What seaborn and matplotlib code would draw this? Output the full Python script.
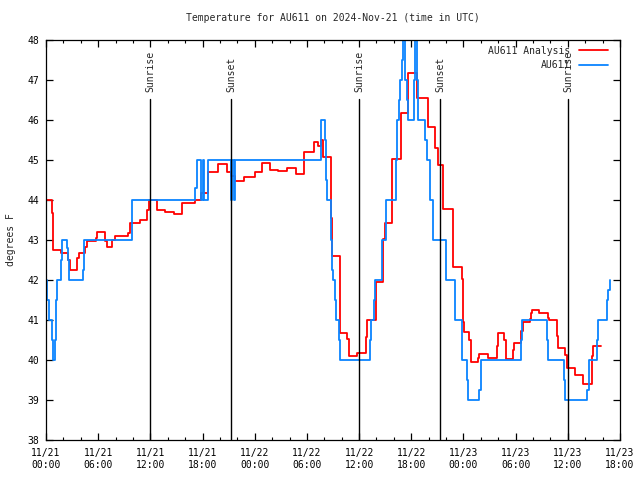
import pandas as pd
import matplotlib
matplotlib.use("Agg")
import matplotlib.pyplot as plt
import matplotlib.dates as mdates
import seaborn as sns

START = pd.Timestamp("2024-11-21 00:00")
END = pd.Timestamp("2024-11-23 18:00")

# AU611 analysis (hours after 11/21 00:00 UTC, degrees F), step series
ana_hours = [0.0, 0.66, 0.77, 1.69, 2.56, 2.76, 3.6, 3.83, 4.48, 4.75, 5.71, 5.83,
             6.78, 6.98, 7.62, 7.93, 9.46, 9.66, 10.81, 11.65, 11.84, 12.71, 13.68,
             14.75, 15.6, 17.13, 17.82, 18.66, 19.74, 20.78, 21.27, 21.73, 22.77,
             24.03, 24.8, 25.76, 26.71, 27.68, 28.71, 29.72, 30.78, 31.31, 31.58,
             31.81, 32.74, 32.85, 33.8, 34.64, 34.84, 35.79, 36.76, 36.87, 37.91,
             38.71, 38.98, 39.75, 40.82, 41.66, 42.62, 42.69, 43.89, 44.73, 45.11,
             45.68, 46.76, 46.83, 47.8, 47.98, 48.1, 48.67, 48.83, 49.71, 49.82,
             50.79, 51.82, 51.94, 52.66, 52.89, 53.73, 53.85, 54.62, 54.88, 55.65,
             55.77, 55.92, 56.72, 57.76, 57.87, 58.79, 58.91, 59.68, 59.87, 60.83,
             61.78, 62.75, 62.93, 63.78]
ana_temp = [44.0, 43.67, 42.75, 42.68, 42.5, 42.25, 42.55, 42.67, 42.83, 42.97, 43.05, 43.2,
            42.97, 42.83, 43.0, 43.1, 43.17, 43.42, 43.5, 43.75, 44.0, 43.75, 43.7,
            43.65, 43.92, 44.0, 44.17, 44.7, 44.9, 44.7, 44.6, 44.47, 44.57,
            44.7, 44.92, 44.75, 44.72, 44.79, 44.65, 45.19, 45.46, 45.35, 45.5,
            45.08, 43.54, 42.6, 40.67, 40.52, 40.1, 40.17, 40.57, 41.0, 41.96,
            43.02, 43.42, 45.02, 46.17, 47.17, 46.97, 46.55, 45.82, 45.3, 44.88,
            43.77, 43.0, 42.32, 42.02, 40.96, 40.69, 40.5, 39.94, 40.04, 40.14,
            40.04, 40.35, 40.68, 40.5, 40.02, 40.25, 40.43, 40.72, 40.96, 41.02,
            41.17, 41.25, 41.17, 41.05, 41.0, 40.6, 40.29, 40.12, 39.79, 39.62,
            39.4, 40.1, 40.35, 40.35]

# AU611 observations
obs_hours = [0.0, 0.15, 0.38, 0.66, 0.77, 1.07, 1.2, 1.29, 1.69, 1.8, 2.45, 2.56, 2.68,
             4.29, 4.4, 9.85, 9.92, 17.13, 17.4, 17.8, 18.05, 18.2, 18.66, 21.23,
             21.39, 21.62, 21.73, 31.58, 32.08, 32.2, 32.34, 32.77, 32.92, 33.03,
             33.23, 33.34, 33.72, 33.8, 37.25, 37.37, 37.71, 37.86, 38.6, 38.67,
             39.09, 40.24, 40.32, 40.62, 40.74, 40.97, 41.08, 41.28, 41.47, 41.59,
             42.35, 42.43, 42.62, 42.74, 42.81, 43.58, 43.77, 44.15, 44.46, 45.99,
             47.03, 47.8, 47.87, 48.44, 48.56, 49.82, 49.98, 54.58, 54.73, 57.64,
             57.76, 59.56, 59.64, 62.24, 62.4, 63.32, 63.51, 64.47, 64.65, 64.85]
obs_temp = [42.0, 41.5, 41.0, 40.5, 40.0, 40.5, 41.5, 42.0, 42.5, 43.0, 42.8, 42.5, 42.0,
            42.25, 43.0, 43.5, 44.0, 44.3, 45.0, 44.0, 45.0, 44.0, 45.0, 44.0,
            45.0, 44.0, 45.0, 46.0, 45.5, 44.5, 44.0, 43.0, 42.25, 42.0,
            41.5, 41.0, 40.5, 40.0, 40.5, 41.0, 41.5, 42.0, 42.5, 43.0,
            44.0, 45.0, 46.0, 46.5, 47.0, 47.5, 48.0, 47.0, 46.5, 46.0,
            47.0, 48.0, 47.0, 46.5, 46.0, 45.5, 45.0, 44.0, 43.0, 42.0,
            41.0, 40.5, 40.0, 39.5, 39.0, 39.25, 40.0, 40.5, 41.0, 40.5,
            40.0, 39.5, 39.0, 39.25, 40.0, 40.5, 41.0, 41.5, 41.75, 42.0]

sun_hours = [11.96, 21.27, 35.99, 45.30, 60.02]
sun_labels = ["Sunrise", "Sunset", "Sunrise", "Sunset", "Sunrise"]

RED = "#ff0000"
BLUE = "#0a84ff"
FONT = ["DejaVu Sans Mono"]

sns.set_theme(style="ticks")
plt.rcParams.update({
    "font.family": FONT, "font.size": 7,
    "xtick.direction": "in", "ytick.direction": "in",
    "xtick.top": True, "ytick.right": True,
    "xtick.minor.visible": True,
    "xtick.major.size": 5, "ytick.major.size": 5,
    "xtick.minor.size": 2.5, "xtick.major.pad": 6, "ytick.major.pad": 5,
    "axes.linewidth": 0.9, "xtick.major.width": 0.9, "ytick.major.width": 0.9,
    "xtick.minor.width": 0.8,
    "xtick.color": "black", "ytick.color": "black", "axes.edgecolor": "black",
})


def to_time(h):
    return START + pd.to_timedelta(h, unit="h")


ana = pd.DataFrame({"time": to_time(ana_hours), "temp": ana_temp})
obs = pd.DataFrame({"time": to_time(obs_hours), "temp": obs_temp})

fig = plt.figure(figsize=(6.4, 4.8), dpi=100)
ax = fig.add_axes([46 / 640, 40 / 480, 574 / 640, 400 / 480])

sns.lineplot(data=ana, x="time", y="temp", ax=ax, color=RED, lw=1.3,
             drawstyle="steps-post", label="AU611 Analysis", estimator=None)
sns.lineplot(data=obs, x="time", y="temp", ax=ax, color=BLUE, lw=1.3,
             drawstyle="steps-post", label="AU611", estimator=None)

trans = ax.get_xaxis_transform()
for h, lab in zip(sun_hours, sun_labels):
    t = to_time(h)
    ax.plot([t, t], [0, 0.853], color="black", lw=1.0, transform=trans)
    ax.text(t, 0.87, lab, rotation=90, ha="center", va="bottom",
            transform=trans, fontsize=7)

ax.set_xlim(START, END)
ax.set_ylim(38, 48)
ax.set_yticks(range(38, 49))
ax.xaxis.set_major_locator(mdates.HourLocator(byhour=[0, 6, 12, 18]))
ax.xaxis.set_minor_locator(mdates.HourLocator(interval=2))
ax.xaxis.set_major_formatter(mdates.DateFormatter("%m/%d\n%H:%M"))
ax.tick_params(axis="both", labelsize=7)
ax.set_xlabel("")
ax.set_ylabel("degrees F", fontsize=7, labelpad=8)
ax.set_title("Temperature for AU611 on 2024-Nov-21 (time in UTC)", fontsize=7, pad=14)

ax.legend(loc="upper right", bbox_to_anchor=(0.985, 0.995), frameon=False,
          markerfirst=False, handlelength=2.9, handletextpad=0.9,
          labelspacing=0.45, borderaxespad=0, fontsize=7)

fig.savefig("out.png", dpi=100)
